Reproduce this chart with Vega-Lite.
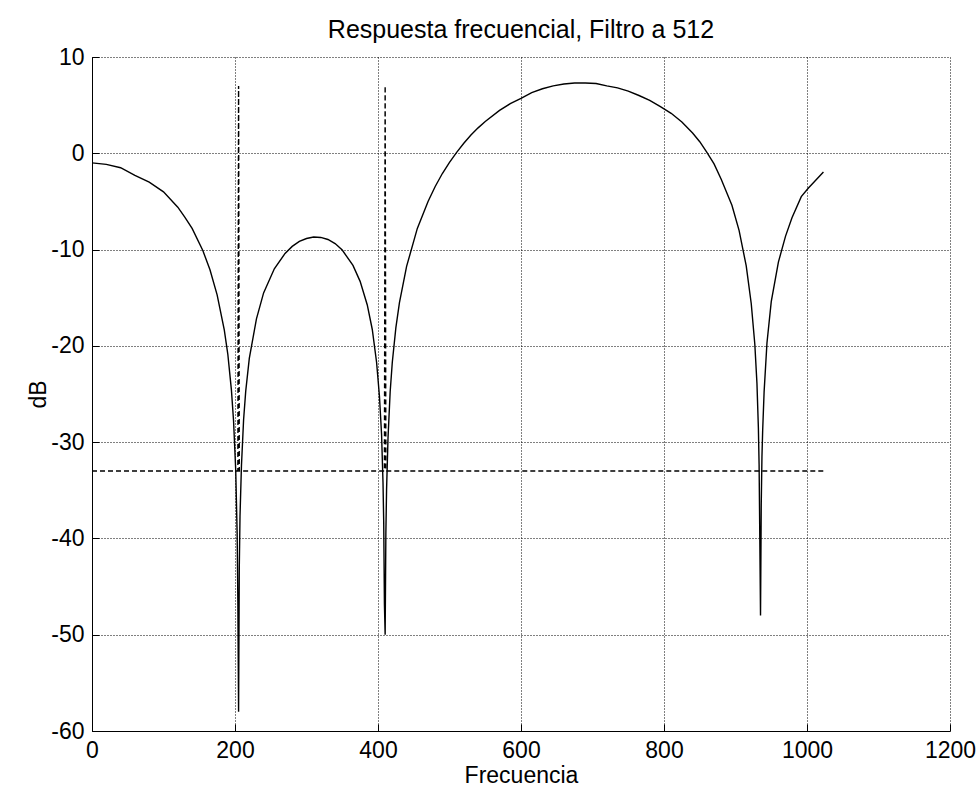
{
  "$schema": "https://vega.github.io/schema/vega-lite/v6.json",
  "autosize": {"type": "none"},
  "width": 858,
  "height": 674,
  "padding": {"left": 92, "top": 57, "right": 30, "bottom": 70},
  "background": "white",
  "title": {"text": "Respuesta frecuencial, Filtro a 512", "font": "Liberation Sans", "fontSize": 25, "fontWeight": "normal", "color": "black", "offset": 3},
  "config": {
    "view": {"stroke": null},
    "axis": {
      "labelFont": "Liberation Sans", "labelFontSize": 23, "labelColor": "black",
      "titleFont": "Liberation Sans", "titleFontSize": 23, "titleFontWeight": "normal", "titleColor": "black",
      "gridColor": "black", "gridOpacity": 1, "gridWidth": 1, "gridDash": [1, 2],
      "domainColor": "black", "domainWidth": 1, "tickColor": "black", "tickWidth": 1,
      "labelFlush": false,
      "labelExpr": "datum.value + ''"
    }
  },
  "resolve": {"axis": {"x": "independent", "y": "independent"}},
  "datasets": {
    "curve": [
      {"f": 0, "db": -1.0}, {"f": 20, "db": -1.15}, {"f": 40, "db": -1.5}, {"f": 60, "db": -2.3}, {"f": 80, "db": -3.0},
      {"f": 100, "db": -4.0}, {"f": 120, "db": -5.6}, {"f": 130, "db": -6.65}, {"f": 140, "db": -7.8}, {"f": 155, "db": -10.1}, {"f": 165, "db": -12.1},
      {"f": 175, "db": -14.7}, {"f": 185, "db": -18.35}, {"f": 190, "db": -20.9}, {"f": 195, "db": -24.6}, {"f": 198, "db": -27.8},
      {"f": 201, "db": -32.9}, {"f": 203, "db": -39.5}, {"f": 204, "db": -46.5}, {"f": 205, "db": -58}, {"f": 206, "db": -43.0},
      {"f": 207, "db": -37.7}, {"f": 209, "db": -32.5}, {"f": 212, "db": -27.7}, {"f": 215, "db": -24.7}, {"f": 220, "db": -21.3},
      {"f": 230, "db": -17.2}, {"f": 240, "db": -14.5}, {"f": 255, "db": -12.0}, {"f": 270, "db": -10.4}, {"f": 280, "db": -9.67},
      {"f": 290, "db": -9.15}, {"f": 300, "db": -8.85}, {"f": 310, "db": -8.7}, {"f": 320, "db": -8.74}, {"f": 330, "db": -8.95},
      {"f": 340, "db": -9.38}, {"f": 350, "db": -10.05}, {"f": 365, "db": -11.65}, {"f": 375, "db": -13.3},
      {"f": 385, "db": -15.75}, {"f": 392, "db": -18.3}, {"f": 398, "db": -21.7}, {"f": 402, "db": -25.2}, {"f": 405, "db": -29.2},
      {"f": 407, "db": -34.2}, {"f": 408, "db": -38.4}, {"f": 409, "db": -46.9}, {"f": 410, "db": -50}, {"f": 411, "db": -39.5},
      {"f": 412, "db": -34.9}, {"f": 414, "db": -29.6}, {"f": 417, "db": -24.8}, {"f": 420, "db": -21.7}, {"f": 425, "db": -18.1},
      {"f": 430, "db": -15.5}, {"f": 440, "db": -11.75}, {"f": 455, "db": -7.8}, {"f": 470, "db": -5.0}, {"f": 480, "db": -3.45},
      {"f": 490, "db": -2.1}, {"f": 500, "db": -0.94}, {"f": 510, "db": 0.1}, {"f": 520, "db": 1.04}, {"f": 530, "db": 1.9},
      {"f": 540, "db": 2.64}, {"f": 550, "db": 3.3}, {"f": 570, "db": 4.45}, {"f": 585, "db": 5.15}, {"f": 600, "db": 5.7},
      {"f": 615, "db": 6.3}, {"f": 630, "db": 6.7}, {"f": 645, "db": 7.0}, {"f": 660, "db": 7.2}, {"f": 675, "db": 7.3},
      {"f": 690, "db": 7.3}, {"f": 705, "db": 7.25}, {"f": 720, "db": 7.0}, {"f": 735, "db": 6.8}, {"f": 750, "db": 6.45},
      {"f": 765, "db": 6.0}, {"f": 780, "db": 5.5}, {"f": 795, "db": 4.85}, {"f": 810, "db": 4.15}, {"f": 825, "db": 3.25},
      {"f": 840, "db": 2.1}, {"f": 850, "db": 1.2}, {"f": 860, "db": 0.1}, {"f": 870, "db": -1.1}, {"f": 880, "db": -2.7},
      {"f": 895, "db": -5.4}, {"f": 905, "db": -8.0}, {"f": 915, "db": -11.7}, {"f": 922, "db": -15.6}, {"f": 927, "db": -19.8},
      {"f": 930, "db": -23.9}, {"f": 932, "db": -28.5}, {"f": 933, "db": -32.3}, {"f": 934, "db": -40}, {"f": 935, "db": -48},
      {"f": 936, "db": -36.5}, {"f": 937, "db": -31.5}, {"f": 938, "db": -28.8}, {"f": 940, "db": -24.8}, {"f": 944, "db": -19.7},
      {"f": 950, "db": -15.4}, {"f": 960, "db": -11.3}, {"f": 970, "db": -8.6}, {"f": 979, "db": -6.7}, {"f": 992, "db": -4.5},
      {"f": 1002, "db": -3.6}, {"f": 1023, "db": -1.95}
    ],
    "mask": [
      {"f": 0, "db": -33}, {"f": 204, "db": -33}, {"f": 205, "db": 7}, {"f": 206, "db": -33},
      {"f": 409, "db": -33}, {"f": 410, "db": 7}, {"f": 411, "db": -33}, {"f": 1023, "db": -33}
    ]
  },
  "layer": [
    {
      "data": {"name": "mask"},
      "mark": {"type": "line", "color": "black", "strokeWidth": 1.4, "strokeDash": [5, 3]},
      "encoding": {
        "x": {"field": "f", "type": "quantitative", "scale": {"domain": [0, 1200], "nice": false}, "axis": {"values": [0, 200, 400, 600, 800, 1000, 1200], "title": "Frecuencia", "grid": true, "ticks": false, "labelPadding": 8, "titlePadding": 2}},
        "y": {"field": "db", "type": "quantitative", "scale": {"domain": [-60, 10], "nice": false}, "axis": {"values": [-60, -50, -40, -30, -20, -10, 0, 10], "title": "dB", "grid": true, "ticks": false, "labelPadding": 8, "titlePadding": 0}}
      }
    },
    {
      "data": {"name": "curve"},
      "mark": {"type": "line", "color": "black", "strokeWidth": 1.4},
      "encoding": {
        "x": {"field": "f", "type": "quantitative", "axis": {"values": [0, 200, 400, 600, 800, 1000, 1200], "orient": "bottom", "offset": -7, "tickSize": 7, "labels": false, "domain": false, "grid": false, "title": null}},
        "y": {"field": "db", "type": "quantitative", "axis": {"values": [-60, -50, -40, -30, -20, -10, 0, 10], "orient": "left", "offset": -7, "tickSize": 7, "labels": false, "domain": false, "grid": false, "title": null}}
      }
    }
  ]
}
